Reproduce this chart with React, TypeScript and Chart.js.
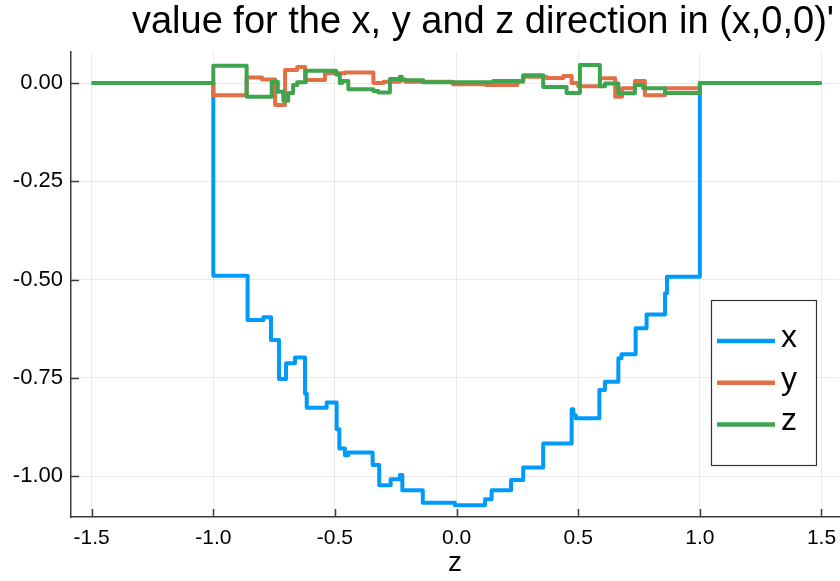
import React, { useEffect, useRef } from 'react';
import { Chart, registerables } from 'chart.js';

Chart.register(...registerables);

const TITLE = "value for the x, y and z direction in (x,0,0)'";
const X_AXIS_TITLE = 'z';
const SERIES_NAMES = ['x', 'y', 'z'];
const SERIES_COLORS = ['#009AFA', '#E36F47', '#3EA44E'];

const X_TICKS = [-1.5, -1.0, -0.5, 0, 0.5, 1.0, 1.5];
const X_TICK_LABELS = ['-1.5', '-1.0', '-0.5', '0.0', '0.5', '1.0', '1.5'];
const Y_TICKS = [0, -0.25, -0.5, -0.75, -1.0];
const Y_TICK_LABELS = ['0.00', '-0.25', '-0.50', '-0.75', '-1.00'];

// Piecewise-constant components: [start of cell along z, value held until the next start]
const COMP_X: [number, number][] = [
  [-1.5, 0], [-1.0, -0.49], [-0.859, -0.603], [-0.794, -0.596], [-0.763, -0.654],
  [-0.73, -0.753], [-0.701, -0.713], [-0.664, -0.698], [-0.623, -0.79], [-0.616, -0.826],
  [-0.534, -0.813], [-0.493, -0.881], [-0.482, -0.93], [-0.459, -0.947], [-0.445, -0.94],
  [-0.345, -0.972], [-0.318, -1.023], [-0.271, -1.008], [-0.233, -0.997], [-0.223, -1.036],
  [-0.139, -1.068], [-0.007, -1.074], [0.117, -1.059], [0.144, -1.036], [0.224, -1.01],
  [0.274, -0.978], [0.356, -0.917], [0.473, -0.83], [0.48, -0.845], [0.49, -0.853],
  [0.587, -0.781], [0.61, -0.76], [0.665, -0.7], [0.678, -0.69], [0.736, -0.624],
  [0.781, -0.589], [0.857, -0.535], [0.865, -0.493], [1.0, 0], [1.5, 0],
];

const COMP_Y: [number, number][] = [
  [-1.5, 0], [-1.0, -0.031], [-0.863, 0.014], [-0.8, 0.009], [-0.746, -0.056],
  [-0.705, 0.033], [-0.655, 0.041], [-0.623, 0.008], [-0.541, 0.025], [-0.459, 0.027],
  [-0.342, 0.0], [-0.3, 0.003], [-0.233, 0.009], [-0.21, 0.003], [-0.015, -0.003],
  [0.12, -0.005], [0.25, 0.003], [0.274, 0.016], [0.37, 0.013], [0.439, 0.018],
  [0.473, 0.0], [0.5, -0.008], [0.589, 0.012], [0.652, -0.035], [0.68, -0.013],
  [0.733, 0.005], [0.774, -0.031], [0.857, -0.013], [1.0, 0], [1.5, 0],
];

const COMP_Z: [number, number][] = [
  [-1.5, 0], [-1.0, 0.044], [-0.863, -0.035], [-0.76, 0.003], [-0.735, -0.022],
  [-0.712, -0.045], [-0.692, -0.025], [-0.672, -0.005], [-0.655, 0.002], [-0.62, 0.031],
  [-0.495, 0.022], [-0.48, 0.0], [-0.47, 0.005], [-0.445, -0.016], [-0.342, -0.02],
  [-0.322, -0.024], [-0.274, 0.01], [-0.233, 0.016], [-0.225, 0.007], [-0.137, 0.002],
  [0.151, 0.005], [0.274, 0.02], [0.356, -0.01], [0.452, -0.025], [0.507, 0.046],
  [0.589, -0.008], [0.61, -0.001], [0.665, -0.026], [0.733, -0.005], [0.767, -0.013],
  [0.857, -0.025], [1.0, 0], [1.5, 0],
];

const SERIES = [COMP_X, COMP_Y, COMP_Z];

const FONT = '"Liberation Sans", Arial, sans-serif';
const AXIS_COLOR = '#3a3a3a';

const decorations = {
  id: 'decorations',
  afterDraw(chart: any) {
    const { ctx, chartArea, scales } = chart;
    ctx.save();

    // tick marks pointing into the plot area
    ctx.strokeStyle = AXIS_COLOR;
    ctx.lineWidth = 1.5;
    X_TICKS.forEach((v) => {
      const x = Math.round(scales.x.getPixelForValue(v)) + 0.5;
      ctx.beginPath();
      ctx.moveTo(x, chartArea.bottom);
      ctx.lineTo(x, chartArea.bottom - 8);
      ctx.stroke();
    });
    Y_TICKS.forEach((v) => {
      const y = Math.round(scales.y.getPixelForValue(v)) + 0.5;
      ctx.beginPath();
      ctx.moveTo(chartArea.left, y);
      ctx.lineTo(chartArea.left + 8, y);
      ctx.stroke();
    });

    // title
    ctx.fillStyle = '#000';
    ctx.font = `38px ${FONT}`;
    ctx.textAlign = 'center';
    ctx.textBaseline = 'middle';
    ctx.fillText(TITLE, 483, 23);

    // legend
    const boxL = 711, boxT = 300, boxW = 105, boxH = 165;
    ctx.fillStyle = '#fff';
    ctx.fillRect(boxL, boxT, boxW, boxH);
    ctx.strokeStyle = '#333';
    ctx.lineWidth = 1.2;
    ctx.strokeRect(boxL + 0.5, boxT + 0.5, boxW, boxH);
    ctx.font = `32px ${FONT}`;
    ctx.textAlign = 'left';
    ctx.textBaseline = 'middle';
    SERIES_NAMES.forEach((name, i) => {
      const y = 341 + i * 41.7;
      ctx.strokeStyle = SERIES_COLORS[i];
      ctx.lineWidth = 4.5;
      ctx.beginPath();
      ctx.moveTo(717, y);
      ctx.lineTo(775, y);
      ctx.stroke();
      ctx.fillStyle = '#000';
      ctx.fillText(name, 781, y - 3);
    });

    ctx.restore();
  },
};

export default function App() {
  const canvasRef = useRef<HTMLCanvasElement | null>(null);

  useEffect(() => {
    const canvas = canvasRef.current;
    if (!canvas) return;

    const chart = new Chart(canvas, {
      type: 'line',
      data: {
        datasets: SERIES.map((pts, i) => ({
          label: SERIES_NAMES[i],
          data: pts.map(([x, y]) => ({ x, y })),
          borderColor: SERIES_COLORS[i],
          backgroundColor: SERIES_COLORS[i],
          borderWidth: 4,
          pointRadius: 0,
          // hold each value across its cell, then jump at the next cell start
          stepped: 'before' as const,
          fill: false,
          borderJoinStyle: 'round' as const,
          order: SERIES.length - i,
        })),
      },
      options: {
        responsive: false,
        animation: false,
        devicePixelRatio: 1,
        layout: { padding: { top: 52, right: 1, left: 0, bottom: 0 } },
        plugins: {
          legend: { display: false },
          title: { display: false },
          tooltip: { enabled: false },
        },
        scales: {
          x: {
            type: 'linear',
            min: -1.585,
            max: 1.572,
            afterBuildTicks: (scale: any) => {
              scale.ticks = X_TICKS.map((value) => ({ value }));
            },
            afterFit: (scale: any) => {
              scale.height = 64;
              scale.paddingLeft = 0;
              scale.paddingRight = 0;
            },
            ticks: {
              callback: (_v: any, idx: number) => X_TICK_LABELS[idx],
              font: { family: FONT, size: 21 },
              color: '#000',
              padding: 9,
              maxRotation: 0,
            },
            grid: { color: 'rgba(0,0,0,0.08)', lineWidth: 1, drawTicks: false },
            border: { display: true, color: AXIS_COLOR, width: 1.5 },
            title: {
              display: true,
              text: X_AXIS_TITLE,
              font: { family: FONT, size: 28 },
              color: '#000',
              padding: { top: 0, bottom: 1 },
            },
          },
          y: {
            type: 'linear',
            min: -1.104,
            max: 0.079,
            afterBuildTicks: (scale: any) => {
              scale.ticks = Y_TICKS.map((value) => ({ value }));
            },
            afterFit: (scale: any) => {
              scale.width = 71;
              scale.paddingTop = 0;
              scale.paddingBottom = 0;
            },
            ticks: {
              callback: (_v: any, idx: number) => Y_TICK_LABELS[idx],
              font: { family: FONT, size: 22 },
              color: '#000',
              padding: 8,
            },
            grid: { color: 'rgba(0,0,0,0.08)', lineWidth: 1, drawTicks: false },
            border: { display: true, color: AXIS_COLOR, width: 1.5 },
          },
        },
      },
      plugins: [decorations],
    });

    return () => chart.destroy();
  }, []);

  return (
    <div style={{ position: 'absolute', left: 0, top: 0, width: 840, height: 581, background: '#fff' }}>
      <canvas ref={canvasRef} width={840} height={581} />
    </div>
  );
}
